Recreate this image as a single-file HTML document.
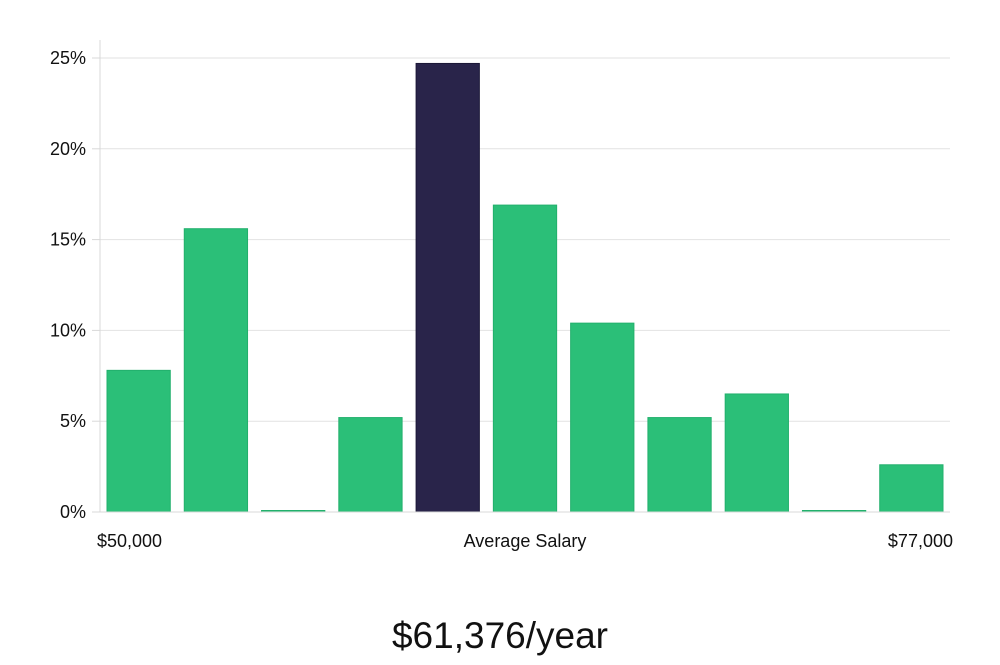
<!DOCTYPE html>
<html><head><meta charset="utf-8"><style>
body{margin:0;background:#fff;width:1000px;height:660px;overflow:hidden;font-family:"Liberation Sans","DejaVu Sans",sans-serif}
</style></head><body>
<svg id="chart" width="1000" height="660" xmlns="http://www.w3.org/2000/svg">
<g id="grid"></g>
<g id="bars"></g>
<g id="yticks"></g>
<line x1="100" y1="40" x2="100" y2="512" stroke="#d8d8d8" stroke-width="1"/>
<line x1="100" y1="512" x2="950" y2="512" stroke="#d8d8d8" stroke-width="1"/>
<text x="97" y="547" font-size="18" fill="#111">$50,000</text>
<text x="525" y="547" font-size="18" fill="#111" text-anchor="middle">Average Salary</text>
<text x="953" y="547" font-size="18" fill="#111" text-anchor="end">$77,000</text>
<text x="500" y="648" font-size="37" fill="#111" text-anchor="middle">$61,376/year</text>
</svg>
<script>
const categories=["b1","b2","b3","b4","b5","b6","b7","b8","b9","b10","b11"];
const values=[7.8,15.6,0,5.2,24.7,16.9,10.4,5.2,6.5,0,2.6];
const highlightIndex=4;
const yTicks=[0,5,10,15,20,25];
const yTickLabels=["0%","5%","10%","15%","20%","25%"];
const NS="http://www.w3.org/2000/svg";
const x0=100,x1=950,y0=512,yPerUnit=18.16;
const slot=(x1-x0)/categories.length;
const yScale=v=>y0-v*yPerUnit;
const xScale=i=>x0+i*slot;
const grid=document.getElementById('grid'),bars=document.getElementById('bars'),yt=document.getElementById('yticks');
yTicks.forEach((t,i)=>{
  const y=yScale(t);
  if(t>0){const l=document.createElementNS(NS,'line');
  
  
  l.setAttribute('x1',x0);l.setAttribute('x2',x1);l.setAttribute('y1',y);l.setAttribute('y2',y);
  l.setAttribute('stroke','#e2e2e2');grid.appendChild(l);}
  const tk=document.createElementNS(NS,'line');
  
  
  tk.setAttribute('x1',x0-8);tk.setAttribute('x2',x0);tk.setAttribute('y1',y);tk.setAttribute('y2',y);
  tk.setAttribute('stroke','#d8d8d8');yt.appendChild(tk);
  const tx=document.createElementNS(NS,'text');
  
  
  tx.setAttribute('x',86);tx.setAttribute('y',y+6);tx.setAttribute('text-anchor','end');
  tx.setAttribute('font-size','18');tx.setAttribute('fill','#111');tx.textContent=yTickLabels[i];yt.appendChild(tx);
});
values.forEach((v,i)=>{
  const r=document.createElementNS(NS,'rect');
  
  
  const top=Math.min(yScale(v),y0-1.5);
  r.setAttribute('x',xScale(i)+7);r.setAttribute('width',slot-14);
  r.setAttribute('y',top);r.setAttribute('height',y0-top);
  const hi=i===highlightIndex;
  r.setAttribute('fill',hi?'#29244a':'#2bbf78');
  r.setAttribute('stroke',hi?'#1c1838':'#22b06c');r.setAttribute('stroke-width','1');
  bars.appendChild(r);
});
</script>
</body></html>
